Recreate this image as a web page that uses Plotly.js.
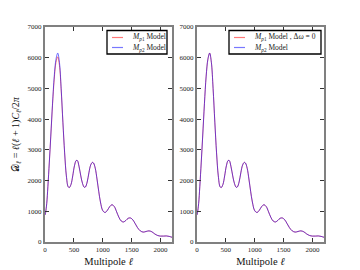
<!DOCTYPE html>
<html>
<head>
<meta charset="utf-8">
<script src="https://cdn.plot.ly/plotly-3.0.1.min.js"></script>
<style>html,body{margin:0;padding:0;background:#fff;}#chart{width:360px;height:270px;}</style>
</head>
<body>
<div id="chart"></div>
<script>
// Multipole values
var ell = [2, 10, 30, 50, 75, 100, 130, 160, 190, 220, 250, 280, 310, 340, 370, 400, 420, 450, 480, 510, 540, 560, 590, 620, 650, 680, 700, 730, 760, 790, 820, 840, 870, 900, 930, 960, 1000, 1040, 1080, 1120, 1160, 1200, 1240, 1280, 1320, 1360, 1400, 1440, 1480, 1520, 1560, 1600, 1650, 1700, 1750, 1800, 1850, 1900, 1950, 2000, 2050, 2100, 2150, 2200];
// Left panel: M_p1 model
var dlP1 = [880, 950, 1250, 1800, 2600, 3430, 4450, 5300, 5850, 6030, 5750, 4950, 3880, 2900, 2150, 1800, 1770, 1870, 2150, 2480, 2650, 2650, 2450, 2150, 1900, 1780, 1790, 1950, 2250, 2500, 2590, 2570, 2400, 2050, 1650, 1300, 1020, 960, 1030, 1150, 1210, 1150, 980, 800, 680, 650, 700, 770, 780, 720, 600, 470, 360, 320, 340, 360, 330, 260, 210, 190, 190, 195, 180, 150];
// Left panel: M_p2 model
var dlP2 = [880, 950, 1250, 1800, 2600, 3450, 4500, 5400, 5950, 6150, 5850, 5000, 3900, 2900, 2150, 1800, 1770, 1870, 2150, 2480, 2650, 2650, 2450, 2150, 1900, 1780, 1790, 1950, 2250, 2500, 2590, 2570, 2400, 2050, 1650, 1300, 1020, 960, 1030, 1150, 1210, 1150, 980, 800, 680, 650, 700, 770, 780, 720, 600, 470, 360, 320, 340, 360, 330, 260, 210, 190, 190, 195, 180, 150];
// Right panel: M_p1 model with delta omega = 0
var dlP1Dw0 = [880, 950, 1250, 1800, 2600, 3450, 4500, 5400, 5950, 6150, 5850, 5000, 3900, 2900, 2150, 1800, 1770, 1870, 2150, 2480, 2650, 2650, 2450, 2150, 1900, 1780, 1790, 1950, 2250, 2500, 2590, 2570, 2400, 2050, 1650, 1300, 1020, 960, 1030, 1150, 1210, 1150, 980, 800, 680, 650, 700, 770, 780, 720, 600, 470, 360, 320, 340, 360, 330, 260, 210, 190, 190, 195, 180, 150];
// Right panel: M_p2 model
var dlP2Right = dlP2;

var xTicks = [0, 500, 1000, 1500, 2000];
var yTicks = [0, 1000, 2000, 3000, 4000, 5000, 6000, 7000];
var leftLegendLabels = ["<i>M</i><sub><i>p</i>1</sub> Model", "<i>M</i><sub><i>p</i>2</sub> Model"];
var rightLegendLabels = ["<i>M</i><sub><i>p</i>1</sub> Model , Δ<i>ω</i> = 0", "<i>M</i><sub><i>p</i>2</sub> Model"];

var serif = "Liberation Serif, DejaVu Serif, serif";
var redC = "rgba(255,0,0,0.55)";
var blueC = "rgba(0,0,255,0.55)";
var redLeg = "rgb(255,120,120)";
var blueLeg = "rgb(120,120,255)";

function tr(y, name, color, xa, ya) {
  return {x: ell, y: y, name: name, mode: "lines", type: "scatter",
    line: {color: color, width: 1, shape: "spline", smoothing: 1},
    xaxis: xa, yaxis: ya, showlegend: false};
}

var data = [
  tr(dlP1, leftLegendLabels[0], redC, "x", "y"),
  tr(dlP2, leftLegendLabels[1], blueC, "x", "y"),
  tr(dlP1Dw0, rightLegendLabels[0], redC, "x2", "y2"),
  tr(dlP2Right, rightLegendLabels[1], blueC, "x2", "y2")
];

function xax(dom, anchor) {
  return {domain: dom, anchor: anchor, range: [0, 2200], tickvals: xTicks, ticktext: xTicks.map(String),
    ticks: "inside", ticklen: 4, tickwidth: 1, tickcolor: "#333", mirror: "allticks",
    showline: true, linecolor: "#808080", linewidth: 2, showgrid: false, zeroline: false,
    tickfont: {family: serif, size: 7, color: "#222"},
    title: {text: "Multipole <i>ℓ</i>", font: {family: serif, size: 10.5, color: "#111"}, standoff: 4}};
}
function yax(anchor) {
  return {domain: [0.104, 0.9], anchor: anchor, range: [0, 7000], tickvals: yTicks, ticktext: yTicks.map(String),
    ticks: "inside", ticklen: 4, tickwidth: 1, tickcolor: "#333", mirror: "allticks",
    showline: true, linecolor: "#808080", linewidth: 2, showgrid: false, zeroline: false,
    tickfont: {family: serif, size: 7, color: "#222"}};
}

var y1 = yax("x");
y1.title = {text: "𝒟<sub><i>ℓ</i></sub> = <i>ℓ</i>(<i>ℓ</i> + 1)<i>C</i><sub><i>ℓ</i></sub>/2<i>π</i>", font: {family: serif, size: 10, color: "#111"}, standoff: 6};

// manual legend boxes (pixel geometry -> paper fractions)
var W = 360, H = 270;
function px(x) { return x / W; }
function py(y) { return 1 - y / H; }
var shapes = [], annotations = [];
function legendBox(x0, x1, labels) {
  shapes.push({type: "rect", xref: "paper", yref: "paper", x0: px(x0), x1: px(x1), y0: py(54), y1: py(30.5),
    line: {color: "#000", width: 1.3}, fillcolor: "#fff", layer: "above"});
  var rows = [37.5, 47.5], cols = [redLeg, blueLeg];
  for (var i = 0; i < 2; i++) {
    shapes.push({type: "line", xref: "paper", yref: "paper", x0: px(x0 + 5), x1: px(x0 + 16), y0: py(rows[i]), y1: py(rows[i]),
      line: {color: cols[i], width: 1.2}, layer: "above"});
    annotations.push({xref: "paper", yref: "paper", x: px(x0 + 23), y: py(rows[i]), xanchor: "left", yanchor: "middle",
      text: labels[i], showarrow: false, font: {family: serif, size: 7.5, color: "#222"}});
  }
}
legendBox(107, 167, leftLegendLabels);
legendBox(229, 321, rightLegendLabels);

var layout = {
  width: 360, height: 270,
  margin: {l: 0, r: 0, t: 0, b: 0},
  paper_bgcolor: "#fff", plot_bgcolor: "#fff",
  showlegend: false,
  xaxis: xax([0.125, 0.478], "y"),
  yaxis: y1,
  xaxis2: xax([0.547, 0.9], "y2"),
  yaxis2: yax("x2"),
  shapes: shapes,
  annotations: annotations
};

Plotly.newPlot("chart", data, layout, {staticPlot: true, displayModeBar: false});
</script>
</body>
</html>
